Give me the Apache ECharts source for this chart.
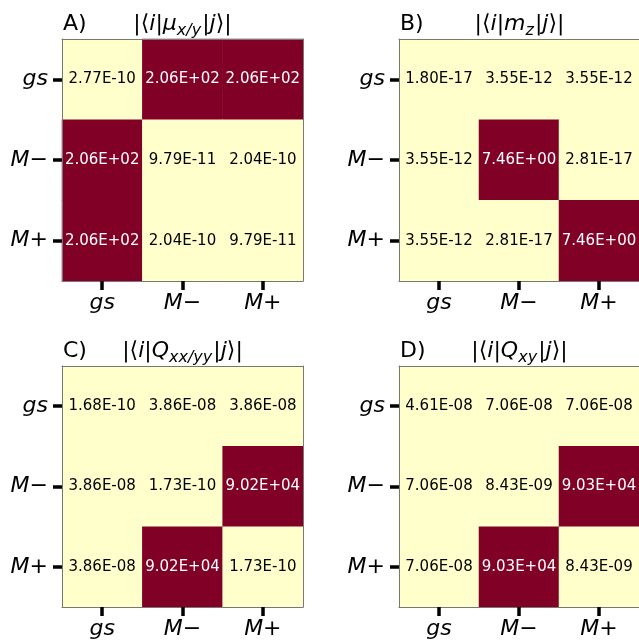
<!DOCTYPE html>
<html><head><meta charset="utf-8">
<script src="https://cdn.jsdelivr.net/npm/echarts@6/dist/echarts.min.js"></script>
<style>html,body{margin:0;padding:0;background:#fff}#c{width:639px;height:642px}</style>
</head><body><div id="c"></div>
<script>
// ---- data ----
const states = ['gs', 'M−', 'M+'];
const muXY = [[2.77e-10, 2.06e2, 2.06e2], [2.06e2, 9.79e-11, 2.04e-10], [2.06e2, 2.04e-10, 9.79e-11]];
const mZ = [[1.80e-17, 3.55e-12, 3.55e-12], [3.55e-12, 7.46e0, 2.81e-17], [3.55e-12, 2.81e-17, 7.46e0]];
const qXXYY = [[1.68e-10, 3.86e-08, 3.86e-08], [3.86e-08, 1.73e-10, 9.02e4], [3.86e-08, 9.02e4, 1.73e-10]];
const qXY = [[4.61e-08, 7.06e-08, 7.06e-08], [7.06e-08, 8.43e-09, 9.03e4], [7.06e-08, 9.03e4, 8.43e-09]];
const panelLetters = ['A)', 'B)', 'C)', 'D)'];
const panelOps = [['μ', 'x/y'], ['m', 'z'], ['Q', 'xx/yy'], ['Q', 'xy']];
const matrices = [muXY, mZ, qXXYY, qXY];

// ---- layout / style ----
const FONT = 'DejaVu Sans';
const layout = [
  {left: 62, top: 39, width: 241, height: 242},
  {left: 399, top: 39, width: 241, height: 242},
  {left: 62, top: 366, width: 241, height: 241},
  {left: 399, top: 366, width: 241, height: 241}
];
const ramp = ['#ffffcc', '#ffeda0', '#fed976', '#feb24c', '#fd8d3c', '#fc4e2a', '#e31a1c', '#bd0026', '#800026'];

function fmt(v) {
  let s = v.toExponential(2).toUpperCase();
  return s.replace(/E([+-])(\d+)$/, (m, sg, d) => 'E' + sg + (d.length < 2 ? '0' + d : d));
}

const grid = [], xAxis = [], yAxis = [], series = [], visualMap = [], graphic = [];
matrices.forEach((M, k) => {
  const g = layout[k];
  grid.push({left: g.left, top: g.top, width: g.width, height: g.height, containLabel: false});
  const vmax = Math.max(...M.flat());
  const tickStyle = {show: true, length: 9, alignWithLabel: true, lineStyle: {color: '#000', width: 3.5}};
  const lineStyle = {show: true, lineStyle: {color: '#777', width: 1}};
  xAxis.push({type: 'category', gridIndex: k, data: states, position: 'bottom', z: 5,
    axisLine: lineStyle, axisTick: tickStyle, splitLine: {show: false},
    axisLabel: {fontFamily: FONT, fontSize: 22, fontStyle: 'italic', color: '#000', margin: 11}});
  xAxis.push({type: 'category', gridIndex: k, data: states, position: 'top', z: 5,
    axisLine: lineStyle, axisTick: {show: false}, axisLabel: {show: false}, splitLine: {show: false}});
  yAxis.push({type: 'category', gridIndex: k, data: states, inverse: true, position: 'left', z: 5,
    axisLine: lineStyle, axisTick: tickStyle, splitLine: {show: false},
    axisLabel: {fontFamily: FONT, fontSize: 22, fontStyle: 'italic', color: '#000', margin: 14}});
  yAxis.push({type: 'category', gridIndex: k, data: states, inverse: true, position: 'right', z: 5,
    axisLine: lineStyle, axisTick: {show: false}, axisLabel: {show: false}, splitLine: {show: false}});
  const data = [];
  M.forEach((row, i) => row.forEach((v, j) => {
    data.push({value: [j, i, v], label: {color: v > vmax / 2 ? '#fff' : '#000'}});
  }));
  series.push({type: 'heatmap', xAxisIndex: 2 * k, yAxisIndex: 2 * k, data: data,
    label: {show: true, fontFamily: FONT, fontSize: 15, formatter: p => fmt(p.value[2])},
    emphasis: {disabled: true}});
  visualMap.push({show: false, type: 'continuous', seriesIndex: k, dimension: 2, min: 0, max: vmax,
    inRange: {color: ramp}});
  const [op, sub] = panelOps[k];
  graphic.push({type: 'text', left: g.left + 1, top: g.top - 26,
    style: {text: panelLetters[k], font: '22px "DejaVu Sans"', fill: '#000'}});
  graphic.push({type: 'text', x: g.left + g.width / 2, y: g.top - 30,
    style: {
      text: '{n||⟨}{it|i}{n||}{it|' + op + '}{sub|' + sub + '}{n||}{it|j}{n|⟩|}',
      textAlign: 'center',
      rich: {
        n: {fontFamily: FONT, fontSize: 22, fill: '#000', lineHeight: 30, verticalAlign: 'middle'},
        it: {fontFamily: FONT, fontSize: 22, fontStyle: 'italic', fill: '#000', lineHeight: 30, verticalAlign: 'middle'},
        sub: {fontFamily: FONT, fontSize: 16, fontStyle: 'italic', fill: '#000', lineHeight: 30, verticalAlign: 'bottom', padding: [0, 1, 0, 0]}
      }
    }});
});

const chart = echarts.init(document.getElementById('c'), null, {renderer: 'canvas'});
chart.setOption({animation: false, backgroundColor: '#fff', grid, xAxis, yAxis, visualMap, series, graphic});
</script>
</body></html>
